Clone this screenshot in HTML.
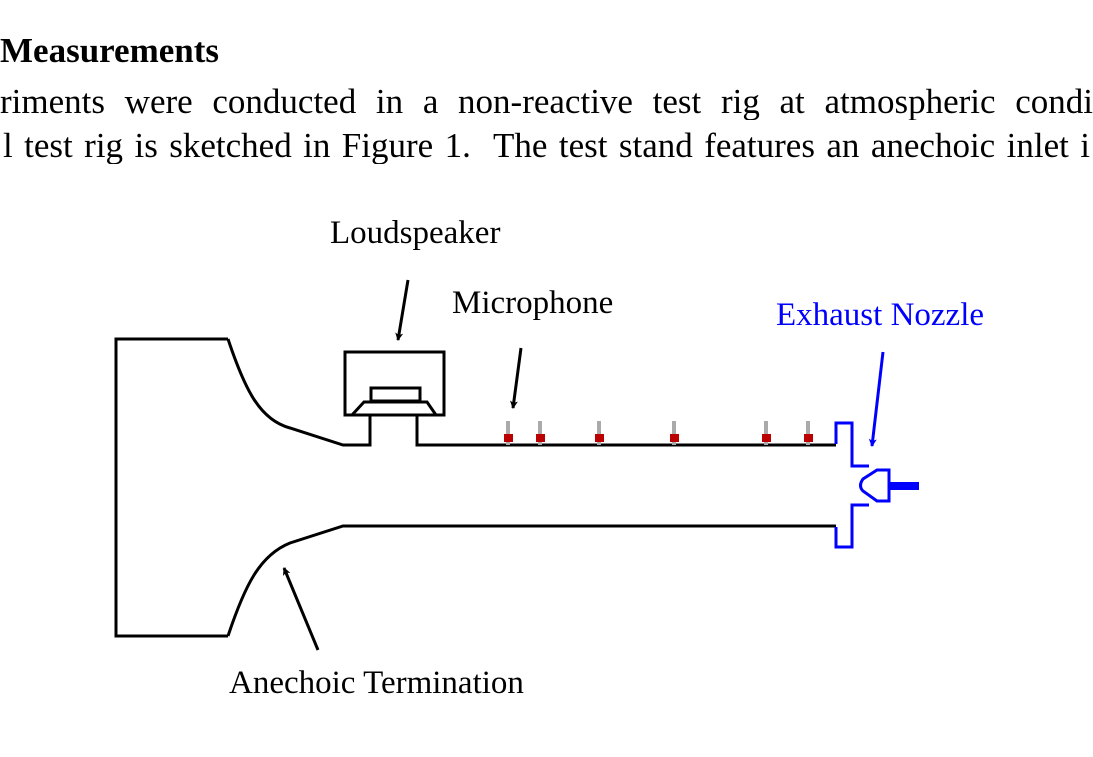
<!DOCTYPE html>
<html><head><style>
html,body{margin:0;padding:0;background:#fff;width:1093px;height:757px;overflow:hidden;position:relative}
.t{position:absolute;font-family:"Liberation Serif","Times New Roman",serif;white-space:nowrap;line-height:1}
.b{font-size:35px}
.l{font-size:33px}
.j{white-space:normal;text-align:justify;text-align-last:justify;height:36px;overflow:hidden}
svg{position:absolute;left:0;top:0}
</style></head>
<body>
<svg width="1093" height="757" viewBox="0 0 1093 757" xmlns="http://www.w3.org/2000/svg">
<defs>
<marker id="ak" markerWidth="8" markerHeight="8" refX="7" refY="4" orient="auto" markerUnits="userSpaceOnUse"><path d="M0,0 L8,4 L0,8 L2,4z" fill="#000"/></marker>
<marker id="ab" markerWidth="8" markerHeight="8" refX="7" refY="4" orient="auto" markerUnits="userSpaceOnUse"><path d="M0,0 L8,4 L0,8 L2,4z" fill="#00f"/></marker>
</defs>
<g fill="none" stroke="#000" stroke-width="3">
<path d="M228,339 L116,339 L116,636 L228,636"/>
<path d="M228,339 C245,390 260,420 290,428 L343,445 L370,445 L370,415"/>
<path d="M228,636 C245,585 260,555 290,543 L343,526 L836,526"/>
<path d="M417,415 L417,445 L836,445"/>
<rect x="345" y="352" width="99" height="63"/>
<rect x="371" y="388" width="49" height="13"/>
<path d="M352,415 L364,402 L427,402 L436,415"/>
<line x1="408" y1="280" x2="398" y2="340" marker-end="url(#ak)"/>
<line x1="521" y1="348" x2="513" y2="408" marker-end="url(#ak)"/>
<line x1="318" y1="650" x2="284" y2="568" marker-end="url(#ak)"/>
</g>
<g>
<rect x="506" y="421" width="4" height="24" fill="#aaa"/><rect x="504" y="434" width="9" height="8" fill="#b00"/>
<rect x="538" y="421" width="4" height="24" fill="#aaa"/><rect x="536" y="434" width="9" height="8" fill="#b00"/>
<rect x="597" y="421" width="4" height="24" fill="#aaa"/><rect x="595" y="434" width="9" height="8" fill="#b00"/>
<rect x="672" y="421" width="4" height="24" fill="#aaa"/><rect x="670" y="434" width="9" height="8" fill="#b00"/>
<rect x="764" y="421" width="4" height="24" fill="#aaa"/><rect x="762" y="434" width="9" height="8" fill="#b00"/>
<rect x="806" y="421" width="4" height="24" fill="#aaa"/><rect x="804" y="434" width="9" height="8" fill="#b00"/>
</g>
<g fill="none" stroke="#00f" stroke-width="3">
<path d="M836,444 L836,423 L852,423 L852,466 L869,466"/>
<path d="M836,527 L836,547 L852,547 L852,505 L869,505"/>
<path d="M889,470 L877,470 L863,479 Q858,486 863,491 L877,501 L889,501 Z"/>
<line x1="883" y1="352" x2="872" y2="446" marker-end="url(#ab)"/>
</g>
<rect x="889" y="482" width="30" height="8" fill="#00f"/>
</svg>
<div class="t" style="left:0;top:33px;font-size:35px;font-weight:bold">Measurements</div>
<div class="t b j" style="left:0;top:84px;width:1093px">riments were conducted in a non-reactive test rig at atmospheric condi</div>
<div class="t b j" style="left:3px;top:128px;width:1087px">l test rig is sketched in Figure 1.&nbsp; The test stand features an anechoic inlet i</div>
<div class="t l" style="left:330px;top:217px">Loudspeaker</div>
<div class="t l" style="left:452px;top:287px">Microphone</div>
<div class="t l" style="left:776px;top:299px;color:#00f">Exhaust Nozzle</div>
<div class="t l" style="left:229px;top:667px">Anechoic Termination</div>
</body></html>
